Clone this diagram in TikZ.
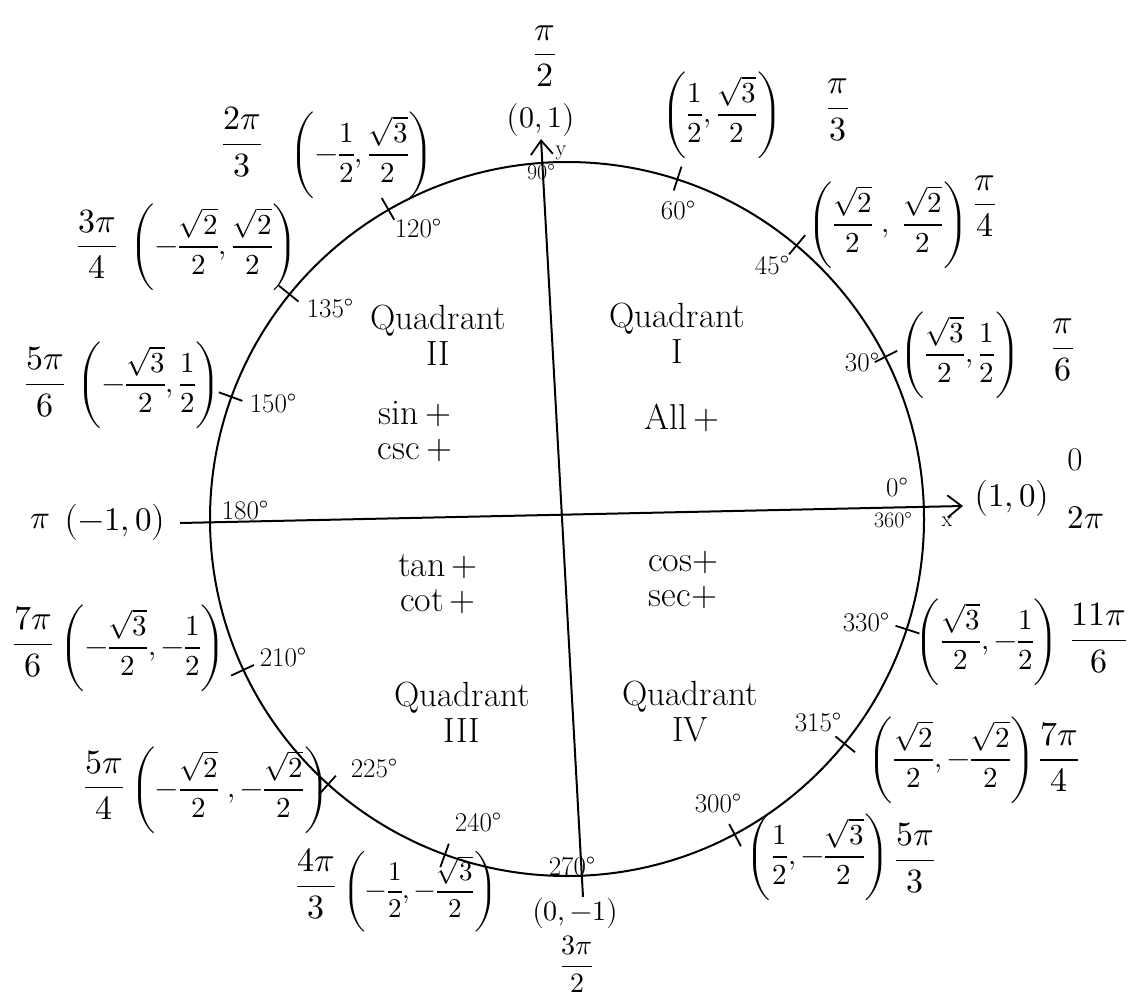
\documentclass[tikz,border=0pt]{standalone}
\usepackage{unicode-math}
\usetikzlibrary{arrows.meta,calc}
\begin{document}
\begin{tikzpicture}[x=1pt,y=-1pt,
  lbl/.style={inner sep=0pt, font=\fontsize{29}{33}\selectfont},
  ang/.style={inner sep=0pt, font=\fontsize{34}{38}\selectfont},
  big/.style={inner sep=0pt, font=\fontsize{33}{37}\selectfont},
  deg/.style={inner sep=0pt, font=\fontsize{27}{30}\selectfont},
  sdeg/.style={inner sep=0pt, font=\fontsize{22}{26}\selectfont},
  quad/.style={inner sep=0pt, align=center, font=\fontsize{35}{36}\selectfont},
  trig/.style={inner sep=0pt, align=center, font=\fontsize{36}{35}\selectfont},
  tickmark/.style={line width=1.8pt},
  axis/.style={line width=2pt, -{Straight Barb[length=14pt,width=22pt,line width=1.8pt]}}]
\useasboundingbox (0,0) rectangle (1145,998);
\node[circle,draw,line width=2pt,minimum size=714pt,inner sep=0pt] (C) at (567,519) {};
\foreach \a in {27,50,72,120,141,160,205,228,250,298,321,342}
  \draw[tickmark] ($(C.center)!0.965!(C.\a)$) -- ($(C.center)!1.035!(C.\a)$);
\coordinate (xl) at (180,523);
\coordinate (xr) at (963,506);
\coordinate (yb) at (583,897);
\coordinate (yt) at (541,139);
\draw[axis] (xl) -- (xr);
\draw[axis] (yb) -- (yt);
% top
\node[ang] (pi2) at (545,56) {$\dfrac{\pi}{2}$};
\node[big,font=\fontsize{30}{34}\selectfont] (c90) at (541,120) {$\bigl(0,1\bigr)$};
\node[sdeg] (ylab) at (561,153) {y};
\node[sdeg] (d90) at (541,172) {90°};
% 60
\node[lbl] (c60) at (722,115) {$\left(\dfrac{1}{2},\dfrac{\sqrt{3}}{2}\right)$};
\node[ang] (a60) at (838,110) {$\dfrac{\pi}{3}$};
\node[deg] (d60) at (678,210) {60°};
% 45
\node[lbl] (c45) at (888,225) {$\left(\dfrac{\sqrt{2}}{2}\;,\;\dfrac{\sqrt{2}}{2}\right)$};
\node[ang] (a45) at (985,206) {$\dfrac{\pi}{4}$};
\node[deg] (d45) at (772,265) {45°};
% 30
\node[deg] (d30) at (862,362) {30°};
\node[lbl] (c30) at (960,355) {$\left(\dfrac{\sqrt{3}}{2},\dfrac{1}{2}\right)$};
\node[ang] (a30) at (1063,350) {$\dfrac{\pi}{6}$};
% 0
\node[big] (z0) at (1075,460) {0};
\node[big] (z2pi) at (1086,518) {$2\pi$};
\node[deg] (d0) at (897,487) {0°};
\node[sdeg] (d360) at (893,520) {360°};
\node[sdeg] (xlab) at (947,522) {x};
\node[big] (c0) at (1012,498) {$\bigl(1,0\bigr)$};
% 180
\node[big] (api) at (40,522) {$\pi$};
\node[big] (c180) at (115,522) {$\bigl(-1,0\bigr)$};
\node[deg] (d180) at (245,510) {180°};
% 120
\node[ang] (a120) at (242,142) {$\dfrac{2\pi}{3}$};
\node[lbl] (c120) at (362,155) {$\left(-\dfrac{1}{2},\dfrac{\sqrt{3}}{2}\right)$};
\node[deg] (d120) at (418,228) {120°};
% 135
\node[ang] (a135) at (97,244) {$\dfrac{3\pi}{4}$};
\node[lbl] (c135) at (214,247) {$\left(-\dfrac{\sqrt{2}}{2},\dfrac{\sqrt{2}}{2}\right)$};
\node[deg] (d135) at (330,308) {135°};
% 150
\node[ang] (a150) at (45,382) {$\dfrac{5\pi}{6}$};
\node[lbl] (c150) at (149,385) {$\left(-\dfrac{\sqrt{3}}{2},\dfrac{1}{2}\right)$};
\node[deg] (d150) at (273,403) {150°};
% 210
\node[ang] (a210) at (33,642) {$\dfrac{7\pi}{6}$};
\node[lbl] (c210) at (143,648) {$\left(-\dfrac{\sqrt{3}}{2},-\dfrac{1}{2}\right)$};
\node[deg] (d210) at (283,657) {210°};
% 225
\node[ang] (a225) at (104,785) {$\dfrac{5\pi}{4}$};
\node[lbl] (c225) at (230,790) {$\left(-\dfrac{\sqrt{2}}{2}\;,-\dfrac{\sqrt{2}}{2}\right)$};
\node[deg] (d225) at (374,768) {225°};
% 240
\node[deg] (d240) at (478,822) {240°};
\node[ang] (a240) at (316,884) {$\dfrac{4\pi}{3}$};
\node[lbl,font=\fontsize{27}{31}\selectfont] (c240) at (420,892) {$\left(-\dfrac{1}{2},-\dfrac{\sqrt{3}}{2}\right)$};
% 270
\node[deg] (d270) at (572,866) {270°};
\node[big,font=\fontsize{28}{32}\selectfont] (c270) at (575,913) {$\bigl(0,-1\bigr)$};
\node[ang,font=\fontsize{28}{32}\selectfont] (a270) at (577,964) {$\dfrac{3\pi}{2}$};
% 300
\node[deg] (d300) at (718,803) {300°};
\node[lbl] (c300) at (818,857) {$\left(\dfrac{1}{2},-\dfrac{\sqrt{3}}{2}\right)$};
\node[ang] (a300) at (915,858) {$\dfrac{5\pi}{3}$};
% 315
\node[deg] (d315) at (818,722) {315°};
\node[lbl] (c315) at (952,760) {$\left(\dfrac{\sqrt{2}}{2},-\dfrac{\sqrt{2}}{2}\right)$};
\node[ang] (a315) at (1059,757) {$\dfrac{7\pi}{4}$};
% 330
\node[deg] (d330) at (866,622) {330°};
\node[lbl] (c330) at (987,642) {$\left(\dfrac{\sqrt{3}}{2},-\dfrac{1}{2}\right)$};
\node[ang] (a330) at (1099,638) {$\dfrac{11\pi}{6}$};
% quadrants
\node[quad] (q2) at (438,335) {Quadrant\\II};
\node[trig] (s2) at (415,432) {sin\,+\\csc\,+};
\node[quad] (q1) at (677,333) {Quadrant\\I};
\node[trig] (s1) at (682,418) {All\,+};
\node[trig] (s3) at (438,584) {tan\,+\\cot\,+};
\node[trig] (s4) at (683,580) {cos+\\sec+};
\node[quad] (q3) at (462,712) {Quadrant\\III};
\node[quad] (q4) at (690,712) {Quadrant\\IV};
\end{tikzpicture}
\end{document}
